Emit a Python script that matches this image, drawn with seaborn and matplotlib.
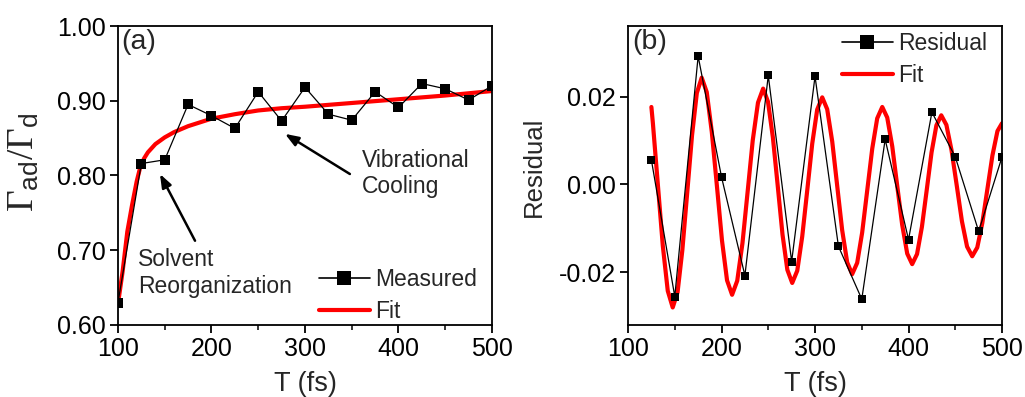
import numpy as np
import pandas as pd
import matplotlib
matplotlib.use("Agg")
import matplotlib.pyplot as plt
import seaborn as sns
from matplotlib.ticker import MultipleLocator, FormatStrFormatter
from matplotlib.lines import Line2D

# ---------------- data ----------------
# Panel (a): measured ratio and fit
meas_T = [100, 125, 150, 175, 200, 225, 250, 275, 300, 325, 350, 375, 400, 425, 450, 475, 500]
meas_y = [0.630, 0.816, 0.821, 0.895, 0.880, 0.863, 0.912, 0.873, 0.918, 0.882, 0.874,
          0.912, 0.891, 0.923, 0.916, 0.901, 0.920]

fitA_T = [100, 105, 110, 115, 120, 124, 128, 132, 140, 150, 160, 175, 200, 225, 250,
          275, 300, 350, 400, 450, 500]
fitA_y = [0.628, 0.672, 0.725, 0.760, 0.792, 0.812, 0.823, 0.831, 0.842, 0.851, 0.858,
          0.866, 0.876, 0.882, 0.887, 0.890, 0.892, 0.897, 0.902, 0.907, 0.913]

# Panel (b): residual and oscillation fit
res_T = [125, 150, 175, 200, 225, 250, 275, 300, 325, 350, 375, 400, 425, 450, 475, 500]
res_y = [0.0056, -0.0256, 0.0293, 0.0017, -0.0208, 0.0249, -0.0176, 0.0247, -0.0141,
         -0.0262, 0.0103, -0.0126, 0.0165, 0.0063, -0.0107, 0.0063]

fitB_T = [125.0, 126.6, 131.9, 137.2, 142.5, 147.8,
          153.0, 158.1, 163.3, 168.5, 173.6, 178.8,
          184.2, 189.6, 195.1, 200.5, 205.9, 211.3,
          216.8, 222.4, 227.9, 233.4, 239.0, 244.5,
          249.7, 254.9, 260.1, 265.2, 270.4, 275.6,
          281.0, 286.3, 291.7, 297.0, 302.3, 307.7,
          313.0, 318.4, 323.7, 329.0, 334.4, 339.7,
          345.1, 350.4, 355.8, 361.2, 366.5, 371.9,
          377.2, 382.6, 387.9, 393.2, 398.6, 403.9,
          409.1, 414.3, 419.5, 424.6, 429.8, 435.0,
          440.5, 446.0, 451.6, 457.1, 462.6, 468.1,
          473.5, 478.9, 484.3, 489.7, 495.1, 500.0]
fitB_y = [0.0177, 0.0140, 0.0000, -0.0140, -0.0243, -0.0281,
          -0.0246, -0.0150, -0.0019, 0.0113, 0.0209, 0.0244,
          0.0211, 0.0120, -0.0004, -0.0128, -0.0219, -0.0252,
          -0.0220, -0.0134, -0.0017, 0.0101, 0.0187, 0.0219,
          0.0189, 0.0108, -0.0003, -0.0114, -0.0195, -0.0225,
          -0.0197, -0.0119, -0.0013, 0.0093, 0.0171, 0.0199,
          0.0172, 0.0098, -0.0003, -0.0104, -0.0178, -0.0205,
          -0.0179, -0.0110, -0.0014, 0.0082, 0.0151, 0.0177,
          0.0153, 0.0087, -0.0003, -0.0092, -0.0158, -0.0182,
          -0.0159, -0.0097, -0.0012, 0.0073, 0.0135, 0.0158,
          0.0136, 0.0078, -0.0003, -0.0084, -0.0142, -0.0164,
          -0.0144, -0.0088, -0.0011, 0.0066, 0.0122, 0.0140]

# ---------------- style ----------------
sns.set_style("ticks")
plt.rcParams['font.family'] = ['Liberation Sans', 'DejaVu Sans']
plt.rcParams['axes.unicode_minus'] = False
plt.rcParams['mathtext.fontset'] = 'custom'
plt.rcParams['mathtext.rm'] = 'Liberation Serif'
plt.rcParams['mathtext.it'] = 'Liberation Serif:italic'
plt.rcParams['mathtext.sf'] = 'Liberation Sans'

RED = '#ff0000'
TICK_FS = 18
LAB_FS = 19.5
LEG_FS = 16.5

fig = plt.figure(figsize=(10.25, 3.97), dpi=100)
ax1 = fig.add_axes([0.1151, 0.1814, 0.3649, 0.7531])
ax2 = fig.add_axes([0.6127, 0.1814, 0.3649, 0.7531])

dfA = pd.DataFrame({'T': meas_T, 'y': meas_y})
dfAf = pd.DataFrame({'T': fitA_T, 'y': fitA_y})
dfB = pd.DataFrame({'T': res_T, 'y': res_y})
dfBf = pd.DataFrame({'T': fitB_T, 'y': fitB_y})

arrow_kw = dict(arrowstyle='-|>,head_length=0.8,head_width=0.3',
                color='black', lw=1.8, shrinkA=0, shrinkB=0)

# Panel (a)
sns.lineplot(data=dfAf, x='T', y='y', ax=ax1, color=RED, lw=3, zorder=2)
sns.lineplot(data=dfA, x='T', y='y', ax=ax1, color='black', lw=0.9, marker='s',
             markersize=6.5, markeredgewidth=0, zorder=3)
ax1.set_xlim(100, 500)
ax1.set_ylim(0.60, 1.00)
ax1.xaxis.set_major_locator(MultipleLocator(100))
ax1.xaxis.set_minor_locator(MultipleLocator(50))
ax1.yaxis.set_major_locator(MultipleLocator(0.10))
ax1.yaxis.set_major_formatter(FormatStrFormatter('%.2f'))
ax1.set_xlabel('T (fs)', fontsize=LAB_FS, labelpad=7)
ax1.set_ylabel(r'$\Gamma_{\mathsf{ad}}/\Gamma_{\mathsf{d}}$', fontsize=27)
ax1.text(0.01, 0.99, '(a)', transform=ax1.transAxes, fontsize=20.5, ha='left', va='top')

ax1.annotate('', xy=(278.6, 0.8557), xytext=(348, 0.802), arrowprops=arrow_kw)
ax1.text(360.6, 0.812, 'Vibrational', fontsize=LEG_FS, ha='left', va='baseline')
ax1.text(360.6, 0.776, 'Cooling', fontsize=LEG_FS, ha='left', va='baseline')
ax1.annotate('', xy=(144.9, 0.802), xytext=(182.4, 0.7127), arrowprops=arrow_kw)
ax1.text(121.5, 0.679, 'Solvent', fontsize=LEG_FS, ha='left', va='baseline')
ax1.text(121.5, 0.643, 'Reorganization', fontsize=LEG_FS, ha='left', va='baseline')

# Panel (b)
sns.lineplot(data=dfBf, x='T', y='y', ax=ax2, color=RED, lw=3, zorder=2)
sns.lineplot(data=dfB, x='T', y='y', ax=ax2, color='black', lw=0.9, marker='s',
             markersize=5.5, markeredgewidth=0, zorder=3)
ax2.set_xlim(100, 500)
ax2.set_ylim(-0.0321, 0.0362)
ax2.xaxis.set_major_locator(MultipleLocator(100))
ax2.xaxis.set_minor_locator(MultipleLocator(50))
ax2.yaxis.set_major_locator(MultipleLocator(0.02))
ax2.yaxis.set_major_formatter(FormatStrFormatter('%.2f'))
ax2.set_xlabel('T (fs)', fontsize=LAB_FS, labelpad=7)
ax2.set_ylabel('Residual', fontsize=18.5)
ax2.text(0.01, 0.99, '(b)', transform=ax2.transAxes, fontsize=20.5, ha='left', va='top')

for ax in (ax1, ax2):
    for s in ax.spines.values():
        s.set_visible(True)
        s.set_linewidth(1.3)
        s.set_color('black')
    ax.tick_params(which='major', direction='out', length=6, width=1.3,
                   labelsize=TICK_FS, colors='black', pad=3)
    ax.tick_params(which='minor', direction='out', length=3.5, width=1.3)
    ax.tick_params(axis='y', which='minor', left=False)

ax1.yaxis.set_label_coords(-0.205, 0.543)
ax2.yaxis.set_label_coords(-0.22, 0.53)

# legends
h_meas = Line2D([], [], color='black', lw=1.2, marker='s', markersize=10, markeredgewidth=0)
h_fit = Line2D([], [], color=RED, lw=3)
ax1.legend([h_meas, h_fit], ['Measured', 'Fit'], loc='lower right', frameon=False,
           fontsize=LEG_FS, handlelength=2.2, handletextpad=0.25, labelspacing=0.42,
           borderaxespad=0.0, bbox_to_anchor=(0.985, -0.025))
h_res = Line2D([], [], color='black', lw=1.2, marker='s', markersize=10, markeredgewidth=0)
ax2.legend([h_res, h_fit], ['Residual', 'Fit'], loc='upper right', frameon=False,
           fontsize=LEG_FS, handlelength=2.2, handletextpad=0.25, labelspacing=0.42,
           borderaxespad=0.0, bbox_to_anchor=(0.985, 1.012))

fig.savefig('out.png', dpi=100)
